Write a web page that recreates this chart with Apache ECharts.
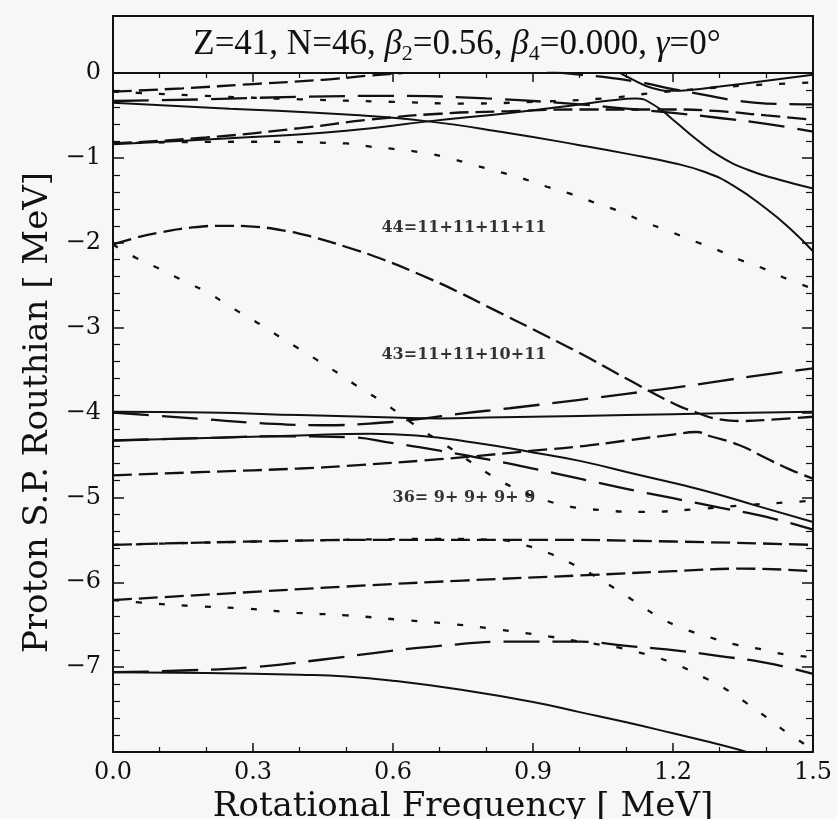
<!DOCTYPE html>
<html>
<head>
<meta charset="utf-8">
<script src="https://cdn.jsdelivr.net/npm/echarts@6/dist/echarts.min.js"></script>
<style>html,body{margin:0;padding:0;background:#f7f7f7;}#c{width:837px;height:819px;}</style>
</head>
<body>
<div id="c"></div>
<script>
// ---- tick labels ----
const xTicks = [0.0, 0.3, 0.6, 0.9, 1.2, 1.5];
const yTicks = [0, -1, -2, -3, -4, -5, -6, -7];

// ---- curves [rotational frequency, routhian] ----
// solid
const solidA = [[0,-0.35],[0.25,-0.42],[0.5,-0.49],[0.675,-0.57],[0.85,-0.71],[1.0,-0.85],[1.1,-0.95],[1.2,-1.06],[1.27,-1.17],[1.33,-1.33],[1.4,-1.6],[1.45,-1.83],[1.5,-2.1]];
const solidB = [[0,-0.84],[0.25,-0.77],[0.5,-0.68],[0.675,-0.57],[0.85,-0.47],[1.0,-0.37],[1.07,-0.32],[1.12,-0.30],[1.16,-0.38],[1.2,-0.55],[1.25,-0.78],[1.3,-0.98],[1.36,-1.14],[1.43,-1.26],[1.5,-1.36]];
const solidC = [[1.08,0.02],[1.115,-0.08],[1.157,-0.18],[1.2,-0.21],[1.236,-0.2],[1.3,-0.16],[1.4,-0.09],[1.5,-0.02]];
const solid4 = [[0,-3.99],[0.2,-4.0],[0.4,-4.03],[0.6,-4.06],[0.7,-4.07],[0.8,-4.06],[1.0,-4.04],[1.2,-4.02],[1.4,-4.0],[1.5,-3.99]];
const solid5 = [[0,-4.33],[0.2,-4.3],[0.4,-4.27],[0.55,-4.25],[0.65,-4.27],[0.78,-4.36],[0.9,-4.47],[1.0,-4.57],[1.13,-4.74],[1.26,-4.91],[1.38,-5.1],[1.5,-5.29]];
const solid7 = [[0,-7.06],[0.2,-7.07],[0.4,-7.09],[0.5,-7.11],[0.6,-7.16],[0.75,-7.27],[0.9,-7.41],[1.0,-7.53],[1.1,-7.65],[1.2,-7.78],[1.32,-7.94],[1.37,-8.02]];
// long dashed
const long2 = [[0,-0.33],[0.2,-0.31],[0.4,-0.28],[0.6,-0.27],[0.8,-0.3],[1.0,-0.37],[1.1,-0.42],[1.2,-0.47],[1.3,-0.53],[1.4,-0.6],[1.5,-0.69]];
const longTop = [[0.93,0.02],[1.0,-0.02],[1.07,-0.06],[1.14,-0.12],[1.2,-0.19],[1.27,-0.26],[1.33,-0.32],[1.4,-0.36],[1.5,-0.37]];
const long4 = [[0,-4.0],[0.1,-4.04],[0.2,-4.08],[0.3,-4.12],[0.45,-4.15],[0.55,-4.13],[0.65,-4.08],[0.75,-4.01],[0.85,-3.95],[1.0,-3.85],[1.1,-3.78],[1.2,-3.71],[1.3,-3.63],[1.4,-3.55],[1.5,-3.48]];
const long5 = [[0,-4.33],[0.2,-4.3],[0.35,-4.28],[0.5,-4.29],[0.6,-4.36],[0.7,-4.45],[0.8,-4.55],[0.9,-4.66],[1.0,-4.78],[1.1,-4.9],[1.2,-5.01],[1.3,-5.12],[1.4,-5.23],[1.5,-5.38]];
const long7 = [[0,-7.06],[0.15,-7.04],[0.3,-7.0],[0.45,-6.91],[0.55,-6.84],[0.7,-6.75],[0.85,-6.7],[1.0,-6.7],[1.1,-6.75],[1.2,-6.8],[1.3,-6.87],[1.4,-6.95],[1.5,-7.08]];
// medium dashed
const med1 = [[0,-0.22],[0.15,-0.18],[0.3,-0.13],[0.45,-0.08],[0.55,-0.03],[0.62,0.0]];
const med2 = [[0,-0.83],[0.2,-0.76],[0.4,-0.65],[0.55,-0.55],[0.7,-0.48],[0.85,-0.45],[1.0,-0.43],[1.2,-0.43],[1.3,-0.45],[1.4,-0.5],[1.5,-0.55]];
const med44 = [[0,-2.02],[0.05,-1.94],[0.1,-1.88],[0.17,-1.82],[0.24,-1.8],[0.3,-1.81],[0.36,-1.85],[0.42,-1.92],[0.5,-2.05],[0.58,-2.2],[0.66,-2.38],[0.74,-2.58],[0.82,-2.8],[0.9,-3.02],[1.0,-3.3],[1.1,-3.6],[1.2,-3.89],[1.25,-4.0],[1.3,-4.08],[1.35,-4.1],[1.42,-4.08],[1.5,-4.05]];
const med47 = [[0,-4.74],[0.2,-4.7],[0.4,-4.66],[0.5,-4.63],[0.7,-4.55],[0.9,-4.45],[1.0,-4.4],[1.1,-4.33],[1.2,-4.26],[1.25,-4.23],[1.28,-4.28],[1.34,-4.38],[1.4,-4.54],[1.45,-4.67],[1.5,-4.78]];
const med55 = [[0,-5.56],[0.3,-5.52],[0.6,-5.5],[0.9,-5.5],[1.2,-5.52],[1.5,-5.56]];
const med62 = [[0,-6.21],[0.25,-6.13],[0.5,-6.05],[0.75,-5.98],[1.0,-5.92],[1.2,-5.87],[1.35,-5.84],[1.5,-5.87]];
// short dashed
const short1 = [[0,-0.22],[0.2,-0.27],[0.4,-0.31],[0.6,-0.34],[0.75,-0.36],[0.9,-0.34],[1.05,-0.3],[1.15,-0.24],[1.25,-0.19],[1.35,-0.15],[1.5,-0.11]];
const short2 = [[0,-0.83],[0.28,-0.81],[0.5,-0.83],[0.555,-0.87],[0.61,-0.9],[0.665,-0.94],[0.718,-1.0],[0.771,-1.08],[0.825,-1.16],[0.876,-1.24],[0.93,-1.34],[0.984,-1.43],[1.033,-1.53],[1.086,-1.63],[1.136,-1.75],[1.19,-1.86],[1.24,-1.97],[1.293,-2.08],[1.343,-2.2],[1.397,-2.31],[1.446,-2.43],[1.5,-2.54]];
const short43 = [[0,-2.02],[0.05,-2.18],[0.105,-2.32],[0.155,-2.46],[0.204,-2.59],[0.25,-2.75],[0.3,-2.91],[0.343,-3.06],[0.39,-3.22],[0.437,-3.38],[0.483,-3.54],[0.529,-3.71],[0.576,-3.87],[0.663,-4.21],[0.712,-4.38],[0.771,-4.6],[0.819,-4.77],[0.868,-4.91],[0.919,-5.02],[0.973,-5.1],[1.022,-5.14],[1.136,-5.17],[1.247,-5.14],[1.36,-5.09],[1.5,-5.04]];
const short55 = [[0,-5.56],[0.4,-5.51],[0.7,-5.49],[0.82,-5.5],[0.88,-5.56],[0.94,-5.67],[0.99,-5.8],[1.03,-5.92],[1.08,-6.09],[1.13,-6.27],[1.17,-6.41],[1.22,-6.54],[1.28,-6.65],[1.33,-6.73],[1.39,-6.79],[1.44,-6.85],[1.5,-6.88]];
const short62 = [[0,-6.21],[0.061,-6.24],[0.17,-6.28],[0.283,-6.31],[0.394,-6.36],[0.5,-6.39],[0.611,-6.44],[0.722,-6.49],[0.829,-6.56],[0.936,-6.64],[1.0,-6.7],[1.05,-6.74],[1.1,-6.79],[1.155,-6.87],[1.204,-6.96],[1.254,-7.09],[1.307,-7.24],[1.354,-7.41],[1.4,-7.59],[1.444,-7.77],[1.5,-7.97]];

// ---- in-plot annotations [x, y, text] ----
const notes = [[0.752,-1.83,'44=11+11+11+11'],[0.752,-3.32,'43=11+11+10+11'],[0.752,-5.01,'36= 9+ 9+ 9+ 9']];

// ---- style groups ----
const dashStyles = { solid: 'solid', long: [36,13], med: [19,7], short: [6,17] };
const groups = [
  ['solid', [solidA, solidB, solidC, solid4, solid5, solid7]],
  ['long', [long2, longTop, long4, long5, long7]],
  ['med', [med1, med2, med44, med47, med55, med62]],
  ['short', [short1, short2, short43, short55, short62]]
];

const series = [];
groups.forEach(([key, list]) => {
  list.forEach(d => {
    series.push({
      type: 'line', data: d, showSymbol: false, smooth: 0.5,
      clip: true, silent: true, animation: false,
      lineStyle: { color: '#111', width: key === 'solid' ? 2 : 2.3, type: dashStyles[key] }
    });
  });
});
series.push({
  type: 'scatter', symbolSize: 0, silent: true, animation: false,
  data: notes.map(n => ({ value: [n[0], n[1]], name: n[2] })),
  label: { show: true, position: 'inside', formatter: p => p.name,
    fontFamily: 'DejaVu Serif', fontWeight: 'bold', fontSize: 16, color: '#000',
    textBorderWidth: 0 }
});

const lineSty = { color: '#111', width: 2 };
const tickSty = { color: '#111', width: 1.5 };
const minorSty = { color: '#111', width: 1.2 };
const xCommon = {
  type: 'value', min: 0, max: 1.5, interval: 0.3,
  axisLine: { show: true, onZero: false, lineStyle: lineSty },
  splitLine: { show: false },
  axisTick: { show: true, inside: true, length: 9, lineStyle: tickSty },
  minorTick: { show: true, splitNumber: 3, length: 5, lineStyle: minorSty }
};
const yCommon = {
  type: 'value', min: -8, max: 0, interval: 1,
  axisLine: { show: true, onZero: false, lineStyle: lineSty },
  splitLine: { show: false },
  axisTick: { show: true, inside: true, length: 11, lineStyle: tickSty },
  minorTick: { show: true, splitNumber: 5, length: 7, lineStyle: minorSty }
};
const chart = echarts.init(document.getElementById('c'));
chart.setOption({
  backgroundColor: '#f7f7f7',
  animation: false,
  grid: { left: 113, right: 24, top: 73, bottom: 67, containLabel: false, outerBoundsMode: 'none' },
  xAxis: [
    Object.assign({}, xCommon, {
      position: 'bottom',
      axisLabel: { margin: 9, fontFamily: 'DejaVu Serif', fontSize: 24, color: '#111',
        formatter: v => xTicks.some(t => Math.abs(t - v) < 1e-6) ? v.toFixed(1) : '' },
      name: 'Rotational Frequency [ MeV]', nameLocation: 'middle', nameGap: 28,
      nameTextStyle: { fontFamily: 'DejaVu Serif', fontSize: 34, color: '#111' }
    }),
    Object.assign({}, xCommon, { position: 'top', axisLabel: { show: false } })
  ],
  yAxis: [
    Object.assign({}, yCommon, {
      position: 'left',
      axisLabel: { margin: 12, fontFamily: 'DejaVu Serif', fontSize: 24, color: '#111',
        formatter: v => yTicks.indexOf(v) >= 0 ? (v < 0 ? '\u2212' + Math.abs(v) : String(v)) : '' },
      name: 'Proton S.P. Routhian [ MeV]', nameLocation: 'middle', nameGap: 52,
      nameTextStyle: { fontFamily: 'DejaVu Serif', fontSize: 34, color: '#111' }
    }),
    Object.assign({}, yCommon, { position: 'right', axisLabel: { show: false } })
  ],
  graphic: [
    { type: 'rect', shape: { x: 113, y: 16, width: 700, height: 57 }, silent: true,
      style: { fill: 'none', stroke: '#111', lineWidth: 2 } },
    { type: 'text', x: 457, y: 45, silent: true,
      style: {
        text: 'Z=41, N=46, {i|\u03b2}{s|2}=0.56, {i|\u03b2}{s|4}=0.000, {i|\u03b3}=0\u00b0',
        fontFamily: 'Liberation Serif', fontSize: 35, fill: '#111',
        align: 'center', verticalAlign: 'middle',
        rich: {
          i: { fontFamily: 'Liberation Serif', fontStyle: 'italic', fontSize: 35, fill: '#111', lineHeight: 40 },
          s: { fontFamily: 'Liberation Serif', fontSize: 22, fill: '#111', verticalAlign: 'bottom', lineHeight: 40 }
        }
      }
    }
  ],
  series: series
});
</script>
</body>
</html>
